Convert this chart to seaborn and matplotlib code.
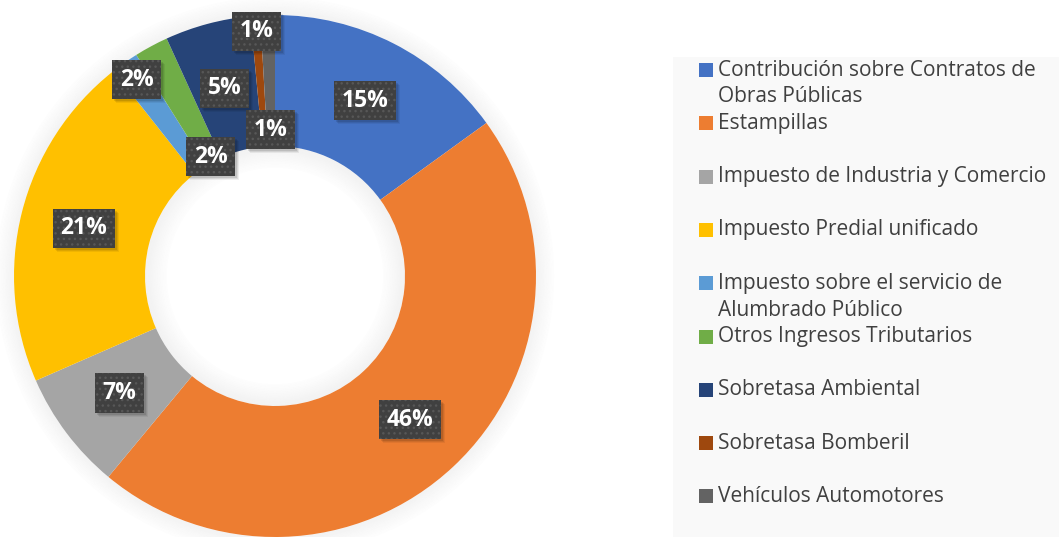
import matplotlib
matplotlib.use('Agg')
import matplotlib.pyplot as plt
from matplotlib.patches import Rectangle, Wedge
import matplotlib.transforms as mtransforms
import seaborn as sns
import numpy as np

# Data (shares in %)
categories = [
    'Contribución sobre Contratos de\nObras Públicas',
    'Estampillas',
    'Impuesto de Industria y Comercio',
    'Impuesto Predial unificado',
    'Impuesto sobre el servicio de\nAlumbrado Público',
    'Otros Ingresos Tributarios',
    'Sobretasa Ambiental',
    'Sobretasa Bomberil',
    'Vehículos Automotores',
]
shares = [15.0, 45.9, 7.4, 20.9, 1.7, 2.1, 5.3, 0.6, 0.9]
colors = ['#4472C4', '#ED7D31', '#A5A5A5', '#FFC000', '#5B9BD5',
          '#70AD47', '#264478', '#9E480E', '#636363']
label_texts = ['15%', '46%', '7%', '21%', '2%', '2%', '5%', '1%', '1%']

# where each data label sits (fraction of the outer radius)
label_radius = [0.755, 0.755, 0.745, 0.755, 0.92, 0.52, 0.745, 0.94, 0.56]

sns.set_theme(style='white')
plt.rcParams['font.family'] = ['Open Sans', 'DejaVu Sans']
plt.rcParams['hatch.linewidth'] = 1.0

W, H = 1059, 537
fig = plt.figure(figsize=(W / 100, H / 100), dpi=100)
fig.patch.set_facecolor('white')

# donut
ax = fig.add_axes([14 / W, 0.0, 522 / W, 522 / H])
hole = 0.498
wedges, _ = ax.pie(shares, colors=colors, startangle=90, counterclock=False,
                   radius=1, wedgeprops=dict(width=1 - hole, linewidth=0))
ax.set_xlim(-1, 1)
ax.set_ylim(-1, 1)
ax.axis('off')

# soft shadow outside the ring and inside the hole
n = 14
for k in range(n):
    a = 0.09 * (1 - k / n)
    ax.add_patch(Wedge((0, 0), 1 + (k + 1) * 0.005, 0, 360, width=0.005,
                       fc='#7f7f7f', ec='none', alpha=a, clip_on=False, zorder=0))
    ax.add_patch(Wedge((0, 0), hole - k * 0.006, 0, 360, width=0.006,
                       fc='#7f7f7f', ec='none', alpha=a * 1.1, zorder=0))

labels = []
for w, txt, r in zip(wedges, label_texts, label_radius):
    mid = np.deg2rad((w.theta1 + w.theta2) / 2)
    x, y = r * np.cos(mid), r * np.sin(mid)
    t = ax.text(x, y, txt, ha='center', va='center', color='white',
                fontsize=16.5, fontweight='bold', zorder=5,
                bbox=dict(boxstyle='square,pad=0.33', fc='#404040',
                          ec='#575757', lw=0, hatch='...'))
    labels.append(t)

# drop shadows behind the label boxes
fig.canvas.draw()
for t in labels:
    bb = t.get_bbox_patch().get_window_extent()
    for k, a in enumerate([0.10, 0.08, 0.06]):
        ax.add_patch(Rectangle((bb.x0 + 2 + k, bb.y0 - 2 - k), bb.width, bb.height,
                               transform=mtransforms.IdentityTransform(),
                               fc='black', ec='none', alpha=a, zorder=4,
                               clip_on=False))

# legend panel
fig.patches.append(Rectangle((673 / W, 0), 1 - 673 / W, 480 / H,
                             transform=fig.transFigure, fc='#f9f9f9',
                             ec='none', zorder=0))
for i, (lab, c) in enumerate(zip(categories, colors)):
    yc = 70 + i * 53.3
    fig.patches.append(Rectangle((699 / W, 1 - (yc + 7) / H), 14 / W, 14 / H,
                                 transform=fig.transFigure, fc=c, ec='none'))
    for j, line in enumerate(lab.split('\n')):
        fig.text(718 / W, 1 - (yc + j * 27) / H, line, ha='left',
                 va='center', fontsize=15, color='#404040')

fig.savefig('out.png', dpi=100)
